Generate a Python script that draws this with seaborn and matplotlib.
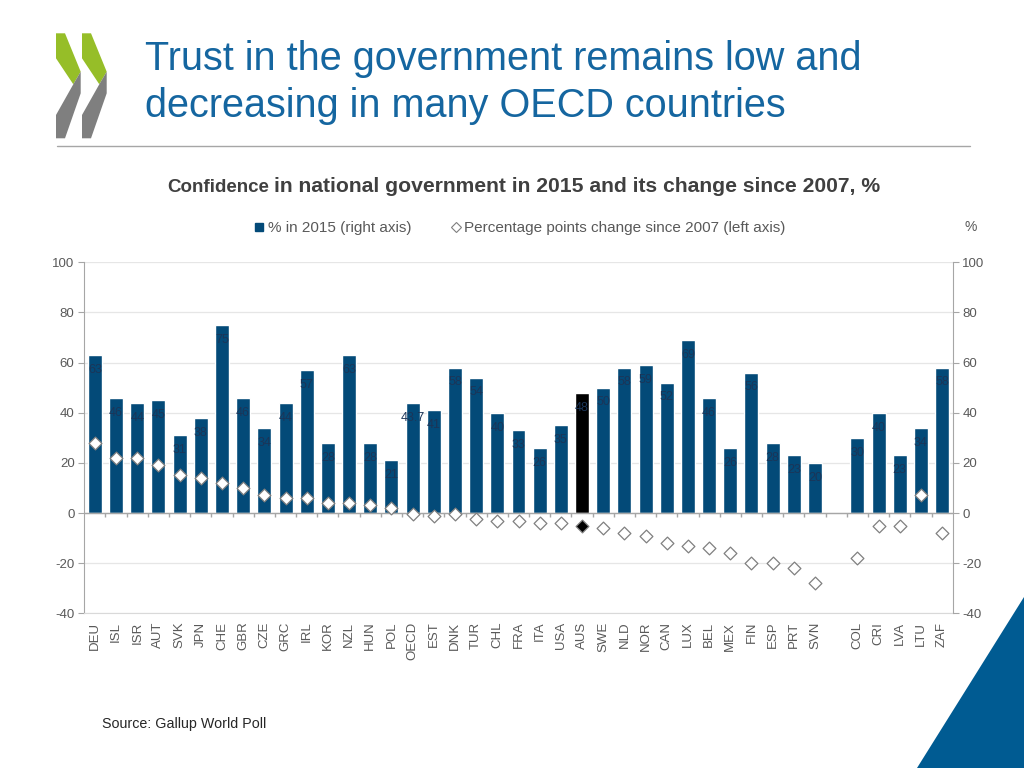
"""
Trust in the government — OECD chart recreation
Bars   : confidence in national government 2015 (right axis, %)
Diamonds: percentage points change since 2007 (left axis)
"""

import numpy as np
import pandas as pd
import matplotlib
matplotlib.use("Agg")
import matplotlib.pyplot as plt
import seaborn as sns
from matplotlib.lines import Line2D
from matplotlib.patches import Polygon

# ─────────────────────────────────────────────
# Data
# ─────────────────────────────────────────────
countries = [
    "DEU", "ISL", "ISR", "AUT", "SVK", "JPN", "CHE", "GBR", "CZE", "GRC",
    "IRL", "KOR", "NZL", "HUN", "POL", "OECD", "EST", "DNK", "TUR", "CHL",
    "FRA", "ITA", "USA", "AUS", "SWE", "NLD", "NOR", "CAN", "LUX", "BEL",
    "MEX", "FIN", "ESP", "PRT", "SVN", "", "COL", "CRI", "LVA", "LTU", "ZAF",
]
trust_2015 = [
    63, 46, 44, 45, 31, 38, 75, 46, 34, 44,
    57, 28, 63, 28, 21, 43.7, 41, 58, 54, 40,
    33, 26, 35, 48, 50, 58, 59, 52, 69, 46,
    26, 56, 28, 23, 20, np.nan, 30, 40, 23, 34, 58,
]
change_since_2007 = [
    28, 22, 22, 19, 15, 14, 12, 10, 7, 6,
    6, 4, 4, 3, 2, -0.5, -1, -0.5, -2.3, -3,
    -3, -4, -4, -5, -6, -8, -9, -12, -13, -14,
    -16, -20, -20, -22, -28, np.nan, -18, -5, -5, 7, -8,
]
highlight = "AUS"

left_ticks = [-40, -20, 0, 20, 40, 60, 80, 100]
right_ticks = [-40, -20, 0, 20, 40, 60, 80, 100]

# ─────────────────────────────────────────────
# Style
# ─────────────────────────────────────────────
BAR_BLUE   = "#034A78"
LABEL_NAVY = "#1B3558"
TITLE_BLUE = "#1566A0"
TEXT_GREY  = "#595959"
AXIS_GREY  = "#A6A6A6"
GRID_GREY  = "#E6E6E6"

sns.set_style("white")
plt.rcParams["font.family"] = ["Liberation Sans", "DejaVu Sans"]
plt.rcParams["axes.unicode_minus"] = False

df = pd.DataFrame({
    "country": countries,
    "trust": trust_2015,
    "change": change_since_2007,
})
df["group"] = np.where(df["country"] == highlight, "hl", "base")
df_plot = df[df["country"] != ""]

W, H = 1024, 768
fig = plt.figure(figsize=(W / 100, H / 100), dpi=100)


def px(x, y):
    """pixel position -> figure fraction"""
    return x / W, 1 - y / H


ax = fig.add_axes([84.3 / W, 1 - 613.3 / H, (952.7 - 84.3) / W, (613.3 - 262.3) / H])

# bars (right axis values, same scale as left)
sns.barplot(
    data=df_plot, x="country", y="trust", order=countries,
    hue="group", palette={"base": BAR_BLUE, "hl": "black"},
    dodge=False, width=0.66, saturation=1, errorbar=None,
    legend=False, ax=ax,
)
for cont in ax.containers:
    ax.bar_label(cont, fmt="{:g}", padding=-15, fontsize=9, color=LABEL_NAVY)

# diamonds (left axis)
sns.stripplot(
    data=df_plot, x="country", y="change", order=countries,
    hue="group", palette={"base": "white", "hl": "black"},
    marker="D", size=6.5, jitter=False, dodge=False,
    edgecolor="#7F7F7F", linewidth=0.9, legend=False, ax=ax, zorder=3,
)

n = len(countries)
ax.set_xlim(-0.5, n - 0.5)
ax.set_ylim(-40, 100)
ax.set_yticks(left_ticks)
ax.set_xlabel("")
ax.set_ylabel("")
ax.set_axisbelow(True)
ax.yaxis.grid(True, color=GRID_GREY, lw=0.9)

# zero line with category ticks
ax.axhline(0, color=AXIS_GREY, lw=1, zorder=2)
ax.vlines(np.arange(1, n) - 0.5, -1.6, 0, color=AXIS_GREY, lw=1, zorder=2)

ax.tick_params(axis="x", length=0, pad=6, labelsize=9.5, labelcolor=TEXT_GREY,
               rotation=90)
ax.tick_params(axis="y", length=4, width=0.8, color=AXIS_GREY, pad=3,
               labelsize=9.5, labelcolor=TEXT_GREY, direction="out", left=True)
for lbl in ax.get_xticklabels():
    lbl.set_va("top")

for side in ["top", "right"]:
    ax.spines[side].set_visible(False)
ax.spines["left"].set_color(AXIS_GREY)
ax.spines["bottom"].set_color("#D9D9D9")

ax2 = ax.twinx()
ax2.set_ylim(-40, 100)
ax2.set_yticks(right_ticks)
ax2.tick_params(axis="y", length=4, width=0.8, color=AXIS_GREY, pad=3,
                labelsize=9.5, labelcolor=TEXT_GREY, direction="out", right=True)
for side in ["top", "left", "bottom"]:
    ax2.spines[side].set_visible(False)
ax2.spines["right"].set_color(AXIS_GREY)
ax2.grid(False)

# ─────────────────────────────────────────────
# Legend + texts
# ─────────────────────────────────────────────
handles = [
    Line2D([], [], ls="none", marker="s", markersize=6, color=BAR_BLUE),
    Line2D([], [], ls="none", marker="D", markersize=5, markerfacecolor="white",
           markeredgecolor="#7F7F7F", markeredgewidth=0.8),
]
fig.legend(
    handles, ["% in 2015 (right axis)", "Percentage points change since 2007 (left axis)"],
    loc="center", bbox_to_anchor=px(520, 228), ncol=2, frameon=False,
    fontsize=11, labelcolor=TEXT_GREY, handlelength=0.6, handletextpad=0.25,
    columnspacing=2.6,
)
fig.text(*px(971, 227), "%", fontsize=10, color=TEXT_GREY, ha="center", va="center")

# subtitle (two sizes, shared baseline)
fig.text(*px(269, 192), "Confidence", fontsize=13.5, fontweight="bold",
         color="#404040", ha="right", va="baseline")
fig.text(*px(274, 192), "in national government in 2015 and its change since 2007, %",
         fontsize=15.2, fontweight="bold", color="#404040",
         ha="left", va="baseline")

# title
fig.text(*px(145, 70), "Trust in the government remains low and",
         fontsize=28.5, color=TITLE_BLUE, va="baseline")
fig.text(*px(145, 117), "decreasing in many OECD countries",
         fontsize=28.5, color=TITLE_BLUE, va="baseline")

# header rule
fig.add_artist(Line2D([57 / W, 970 / W], [1 - 146 / H] * 2, color=AXIS_GREY, lw=1))

# source
fig.text(*px(102, 728), "Source: Gallup World Poll", fontsize=10.3,
         color="#262626", va="baseline")

# OECD logo chevrons
green = [(56, 33.3), (65, 33.3), (80.7, 71.7), (73.3, 84.3), (56, 58.3)]
grey = [(80.7, 71.7), (80.7, 93.3), (65, 138.3), (56, 138.3), (56, 115), (73.3, 84.3)]
for dx in (0, 26):
    fig.add_artist(Polygon([px(x + dx, y) for x, y in green], closed=True,
                           color="#96BE28", lw=0))
    fig.add_artist(Polygon([px(x + dx, y) for x, y in grey], closed=True,
                           color="#7F7F7F", lw=0))

# corner triangle
fig.add_artist(Polygon([px(1024, 597), px(917, 768), px(1024, 768)], closed=True,
                       color="#005B92", lw=0))

fig.savefig("out.png", dpi=100)
print("saved out.png")
